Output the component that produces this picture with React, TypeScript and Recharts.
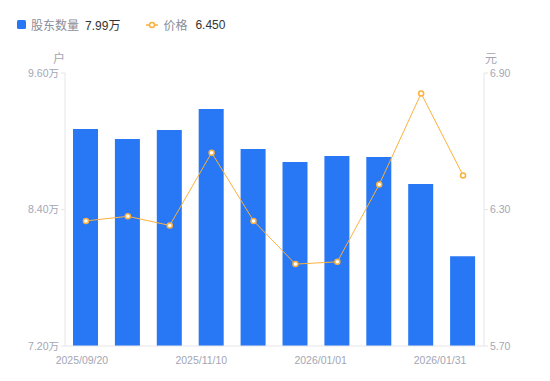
import { ComposedChart, Bar, Line, XAxis, YAxis } from 'recharts';

const dates = [
  '2025/09/20', '2025/10/10', '2025/10/20', '2025/11/10', '2025/11/20',
  '2025/12/10', '2026/01/01', '2026/01/10', '2026/01/20', '2026/01/31',
];
const holders = [91080, 90200, 91000, 92840, 89320, 88180, 88700, 88620, 86240, 79900];
const prices = [6.25, 6.27, 6.23, 6.55, 6.25, 6.06, 6.07, 6.41, 6.81, 6.45];
const holderTicks = [72000, 84000, 96000];
const priceTicks = [5.7, 6.3, 6.9];
const shownDates = ['2025/09/20', '2025/11/10', '2026/01/01', '2026/01/31'];

const data = dates.map((d, i) => ({ date: d, holders: holders[i], price: prices[i] }));

const BLUE = '#2878f6';
const ORANGE = '#fbb13c';
const AXIS_TEXT = '#a3a6b4';
const FONT = '"Liberation Sans", "Noto Sans CJK SC", sans-serif';

const DateTick = (props: any) => {
  const { x, y, payload, index } = props;
  if (!shownDates.includes(payload.value)) return null;
  // labels drift left as in the original layout
  const dx = -4 - (19 * index) / 9;
  return (
    <text x={x + dx} y={y + 10} textAnchor="middle" fontSize={10.5} fill={AXIS_TEXT} fontFamily={FONT}>
      {payload.value}
    </text>
  );
};

const App = () => {
  const last = data.length - 1;
  return (
    <div style={{ position: 'absolute', left: 0, top: 0, width: 550, height: 381, fontFamily: FONT }}>
      <div style={{ position: 'absolute', left: 17, top: 16, display: 'flex', alignItems: 'center', fontSize: 12, whiteSpace: 'nowrap' }}>
        <span style={{ width: 9, height: 9, background: BLUE, borderRadius: 1.5, display: 'inline-block' }} />
        <span style={{ color: '#8a8d99', marginLeft: 5 }}>股东数量</span>
        <span style={{ color: '#333', marginLeft: 6 }}>{(holders[last] / 10000).toFixed(2)}万</span>
        <svg width={12} height={8} style={{ marginLeft: 26 }}>
          <line x1={0} y1={4} x2={12} y2={4} stroke={ORANGE} strokeWidth={1.5} />
          <circle cx={6} cy={4} r={2.5} fill="#fff" stroke={ORANGE} strokeWidth={1.5} />
        </svg>
        <span style={{ color: '#8a8d99', marginLeft: 5 }}>价格</span>
        <span style={{ color: '#333', marginLeft: 8 }}>{prices[last].toFixed(3)}</span>
      </div>
      <div style={{ position: 'absolute', left: 53, top: 49, fontSize: 12, color: AXIS_TEXT }}>户</div>
      <div style={{ position: 'absolute', left: 485, top: 49, fontSize: 12, color: AXIS_TEXT }}>元</div>
      <ComposedChart
        width={550}
        height={381}
        data={data}
        margin={{ top: 73, right: 0, left: 0, bottom: 0 }}
      >
        <XAxis
          dataKey="date"
          interval={0}
          height={35}
          tickLine={false}
          axisLine={{ stroke: '#e6e6ea' }}
          tick={<DateTick />}
        />
        <YAxis
          yAxisId="left"
          width={65}
          domain={[72000, 96000]}
          ticks={holderTicks}
          tickSize={4}
          tickLine={{ stroke: '#e6e6ea' }}
          axisLine={{ stroke: '#e6e6ea' }}
          tick={{ fontSize: 10.5, fill: AXIS_TEXT, fontFamily: FONT }}
          tickFormatter={(v: number) => (v / 10000).toFixed(2) + '万'}
        />
        <YAxis
          yAxisId="right"
          orientation="right"
          width={66}
          domain={[5.7, 6.9]}
          ticks={priceTicks}
          tickSize={4}
          tickLine={{ stroke: '#e6e6ea' }}
          axisLine={{ stroke: '#e6e6ea' }}
          tick={{ fontSize: 10.5, fill: AXIS_TEXT, fontFamily: FONT }}
          tickFormatter={(v: number) => v.toFixed(2)}
        />
        <Bar yAxisId="left" dataKey="holders" fill={BLUE} barSize={25} isAnimationActive={false} />
        <Line
          yAxisId="right"
          type="linear"
          dataKey="price"
          stroke={ORANGE}
          strokeWidth={1}
          dot={{ r: 2.5, fill: '#fff', stroke: ORANGE, strokeWidth: 1.5 }}
          isAnimationActive={false}
        />
      </ComposedChart>
    </div>
  );
};

export default App;
